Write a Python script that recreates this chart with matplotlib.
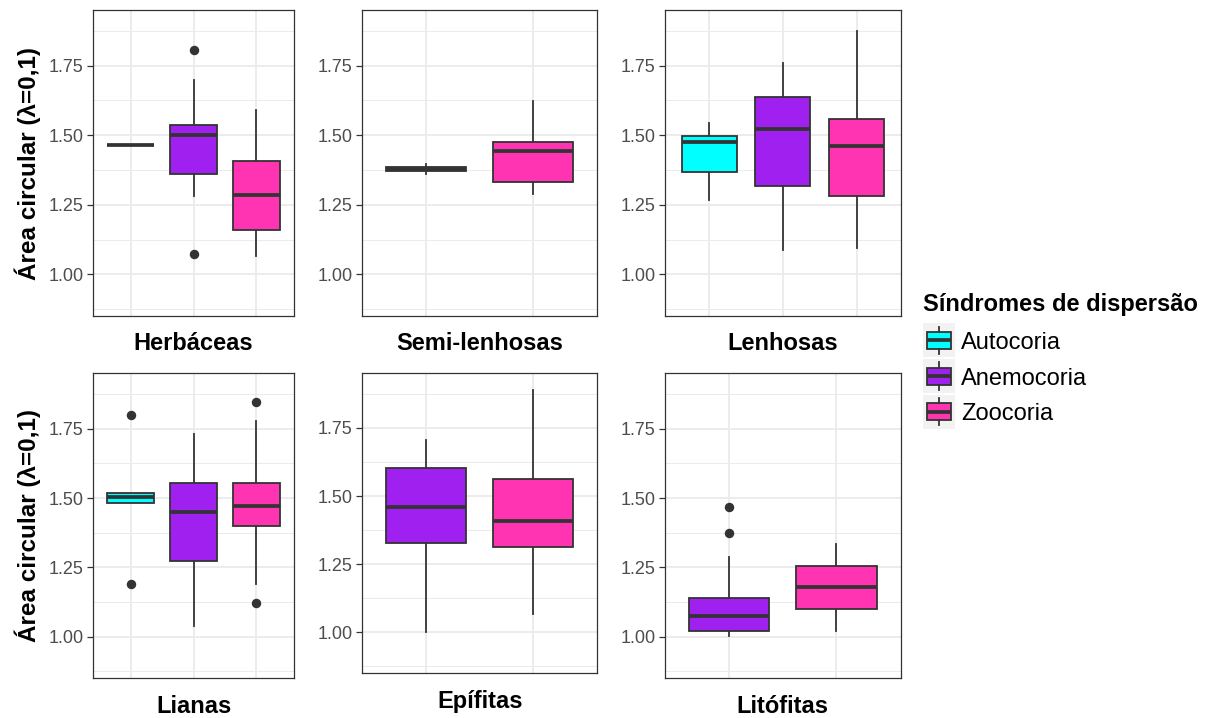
import matplotlib
matplotlib.use("Agg")
import matplotlib.pyplot as plt
from matplotlib.patches import Rectangle
from matplotlib.lines import Line2D

plt.rcParams['font.family'] = ['Liberation Sans', 'DejaVu Sans']

W, H, DPI = 1216, 718, 100

# ---------------- data ----------------
legend_title = "Síndromes de dispersão"
syndromes = ["Autocoria", "Anemocoria", "Zoocoria"]
syndrome_colors = ["#00FFFF", "#A020F0", "#FF34B3"]
y_label = "Área circular (λ=0,1)"
y_ticks = [1.00, 1.25, 1.50, 1.75]
y_tick_labels = ["1.00", "1.25", "1.50", "1.75"]
y_minor = [0.875, 1.125, 1.375, 1.625, 1.875]

herb_groups = ["Autocoria", "Anemocoria", "Zoocoria"]
herb_whislo = [1.463, 1.283, 1.066]
herb_q1 = [1.463, 1.361, 1.158]
herb_med = [1.463, 1.501, 1.284]
herb_q3 = [1.463, 1.535, 1.408]
herb_whishi = [1.463, 1.699, 1.591]
herb_fliers = [[], [1.805, 1.072], []]

semi_groups = ["Anemocoria", "Zoocoria"]
semi_whislo = [1.362, 1.290]
semi_q1 = [1.371, 1.332]
semi_med = [1.378, 1.444]
semi_q3 = [1.385, 1.474]
semi_whishi = [1.395, 1.623]
semi_fliers = [[], []]

lenh_groups = ["Autocoria", "Anemocoria", "Zoocoria"]
lenh_whislo = [1.267, 1.087, 1.093]
lenh_q1 = [1.367, 1.317, 1.283]
lenh_med = [1.476, 1.522, 1.462]
lenh_q3 = [1.498, 1.636, 1.558]
lenh_whishi = [1.543, 1.758, 1.875]
lenh_fliers = [[], [], []]

lian_groups = ["Autocoria", "Anemocoria", "Zoocoria"]
lian_whislo = [1.481, 1.039, 1.189]
lian_q1 = [1.481, 1.274, 1.399]
lian_med = [1.503, 1.449, 1.470]
lian_q3 = [1.520, 1.556, 1.556]
lian_whishi = [1.520, 1.730, 1.778]
lian_fliers = [[1.798, 1.189], [], [1.847, 1.121]]

epif_groups = ["Anemocoria", "Zoocoria"]
epif_whislo = [1.000, 1.066]
epif_q1 = [1.328, 1.313]
epif_med = [1.460, 1.409]
epif_q3 = [1.604, 1.563]
epif_whishi = [1.705, 1.888]
epif_fliers = [[], []]

lito_groups = ["Anemocoria", "Zoocoria"]
lito_whislo = [1.004, 1.019]
lito_q1 = [1.019, 1.100]
lito_med = [1.075, 1.181]
lito_q3 = [1.140, 1.256]
lito_whishi = [1.286, 1.333]
lito_fliers = [[1.468, 1.374], []]

panel_titles = ["Herbáceas", "Semi-lenhosas", "Lenhosas", "Lianas", "Epífitas", "Litófitas"]

# ---------------- layout (pixels) ----------------
panel_boxes = [
    (93.3, 10.0, 294.0, 316.0),
    (362.3, 10.0, 597.3, 316.0),
    (665.0, 10.0, 900.7, 316.0),
    (93.3, 373.3, 294.0, 678.3),
    (362.3, 373.3, 597.3, 673.3),
    (665.0, 373.3, 900.7, 678.3),
]
title_baselines = [350.5, 350.5, 350.5, 713.0, 708.0, 713.0]

EDGE = "#333333"

fig = plt.figure(figsize=(W / DPI, H / DPI), dpi=DPI)
fig.patch.set_facecolor("white")


def px_rect(l, t, r, b):
    return [l / W, 1 - b / H, (r - l) / W, (b - t) / H]


panels_data = [
    (herb_groups, herb_whislo, herb_q1, herb_med, herb_q3, herb_whishi, herb_fliers),
    (semi_groups, semi_whislo, semi_q1, semi_med, semi_q3, semi_whishi, semi_fliers),
    (lenh_groups, lenh_whislo, lenh_q1, lenh_med, lenh_q3, lenh_whishi, lenh_fliers),
    (lian_groups, lian_whislo, lian_q1, lian_med, lian_q3, lian_whishi, lian_fliers),
    (epif_groups, epif_whislo, epif_q1, epif_med, epif_q3, epif_whishi, epif_fliers),
    (lito_groups, lito_whislo, lito_q1, lito_med, lito_q3, lito_whishi, lito_fliers),
]

for (groups, wlo, q1, med, q3, whi, fl), box in zip(panels_data, panel_boxes):
    ax = fig.add_axes(px_rect(*box))
    n = len(groups)
    stats = []
    for i in range(n):
        stats.append(dict(med=med[i], q1=q1[i], q3=q3[i], whislo=wlo[i],
                          whishi=whi[i], fliers=fl[i]))
    pos = list(range(1, n + 1))
    bp = ax.bxp(stats, positions=pos, widths=0.75, patch_artist=True,
                showcaps=False,
                boxprops=dict(edgecolor=EDGE, linewidth=1.3),
                medianprops=dict(color=EDGE, linewidth=2.7, solid_capstyle='butt'),
                whiskerprops=dict(color=EDGE, linewidth=1.3),
                flierprops=dict(marker='o', markerfacecolor=EDGE, markeredgecolor=EDGE,
                                markersize=5.8, linestyle='none'))
    for patch, g in zip(bp['boxes'], groups):
        patch.set_facecolor(syndrome_colors[syndromes.index(g)])
        patch.set_zorder(3)
    for k in ('medians', 'whiskers', 'fliers'):
        for a in bp[k]:
            a.set_zorder(4 if k != 'whiskers' else 2.5)
    ax.set_xlim(0.4, n + 0.6)
    ax.set_ylim(0.85, 1.95)
    ax.set_xticks(pos)
    ax.set_xticklabels([])
    ax.set_yticks(y_ticks)
    ax.set_yticklabels(y_tick_labels)
    ax.set_yticks(y_minor, minor=True)
    ax.tick_params(axis='x', length=0)
    ax.tick_params(axis='y', which='major', length=4, width=0.9, color=EDGE,
                   labelcolor="#4D4D4D", labelsize=13, pad=3)
    ax.tick_params(axis='y', which='minor', length=0)
    ax.set_axisbelow(True)
    ax.grid(True, which='major', color="#EBEBEB", linewidth=1.3)
    ax.grid(True, which='minor', axis='y', color="#EBEBEB", linewidth=0.7)
    for s in ax.spines.values():
        s.set_color(EDGE)
        s.set_linewidth(0.9)
    ax.set_facecolor("white")

# overlay for text / legend in pixel coordinates
ov = fig.add_axes([0, 0, 1, 1], zorder=10)
ov.set_xlim(0, W)
ov.set_ylim(H, 0)
ov.set_axis_off()
ov.patch.set_alpha(0)

for title, box, yb in zip(panel_titles, panel_boxes, title_baselines):
    cx = (box[0] + box[2]) / 2
    ov.text(cx, yb, title, ha='center', va='baseline', fontsize=17,
            fontweight='bold', color='black')

for box in (panel_boxes[0], panel_boxes[3]):
    cy = (box[1] + box[3]) / 2
    ov.text(28, cy, y_label, rotation=90, ha='center', va='center',
            fontsize=17.5, fontweight='bold', color='black')

# legend
ov.text(922.7, 311, legend_title, ha='left', va='baseline', fontsize=17,
        fontweight='bold', color='black')
key_tops = [323.3, 359.0, 394.7]
key_h = 34.0
key_l, key_w = 922.7, 32.3
label_baselines = [349.3, 384.8, 420.0]
for name, col, kt, lb in zip(syndromes, syndrome_colors, key_tops, label_baselines):
    ov.add_patch(Rectangle((key_l, kt), key_w, key_h, facecolor="#F2F2F2",
                           edgecolor='none'))
    cx = key_l + key_w / 2
    ov.add_line(Line2D([cx, cx], [kt + 0.1 * key_h, kt + 0.25 * key_h],
                       color=EDGE, linewidth=1.3))
    ov.add_line(Line2D([cx, cx], [kt + 0.75 * key_h, kt + 0.9 * key_h],
                       color=EDGE, linewidth=1.3))
    ov.add_patch(Rectangle((key_l + 0.125 * key_w, kt + 0.25 * key_h), 0.75 * key_w,
                           0.5 * key_h, facecolor=col, edgecolor=EDGE, linewidth=1.3))
    ov.add_line(Line2D([key_l + 0.125 * key_w, key_l + 0.875 * key_w],
                       [kt + 0.5 * key_h, kt + 0.5 * key_h], color=EDGE, linewidth=2.7,
                       solid_capstyle='butt'))
    ov.text(961, lb, name, ha='left', va='baseline', fontsize=17, color='black')

fig.savefig("out.png", dpi=DPI, facecolor="white")
